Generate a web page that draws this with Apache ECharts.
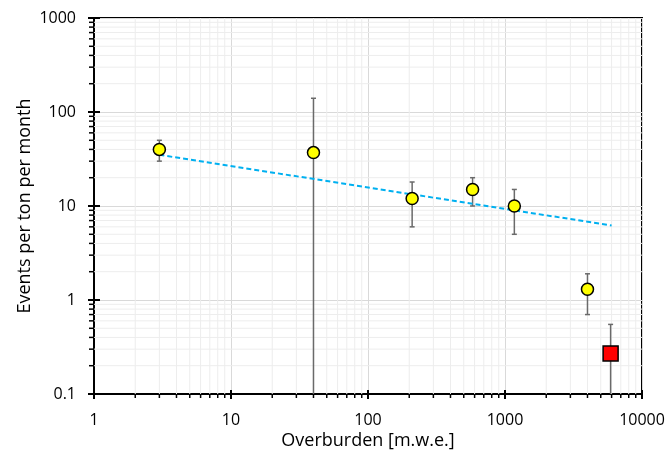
<!DOCTYPE html>
<html>
<head>
<meta charset="utf-8">
<script src="https://cdn.jsdelivr.net/npm/echarts@6/dist/echarts.min.js"></script>
<style>html,body{margin:0;padding:0;background:#fff}#c{width:668px;height:450px}</style>
</head>
<body>
<div id="c"></div>
<script>
// ---- data ----
const depth   = [3, 40, 210, 580, 1170, 4000];      // m.w.e.
const rate    = [40, 37, 12, 15, 10, 1.3];          // events / ton / month
const rateHi  = [50, 140, 18, 20, 15, 1.9];
const rateLo  = [30, null, 6, 10, 5, 0.7];          // null = extends below axis
const limitDepth = [5900];
const limitRate  = [0.27];
const limitHi    = [0.55];
const limitLo    = [null];
const fitDepth = [3, 6000];
const fitRate  = [35, 6.2];
const xDecades = [1, 10, 100, 1000];
const yDecades = [0.1, 1, 10, 100];
const minorMult = [2, 3, 4, 5, 6, 7, 8, 9];
const X_MIN = 1, X_MAX = 10000, Y_MIN = 0.1, Y_MAX = 1000;

const xMinor = [];
xDecades.forEach(d => minorMult.forEach(m => xMinor.push(+(d * m).toPrecision(3))));
const yMinor = [];
yDecades.forEach(d => minorMult.forEach(m => yMinor.push(+(d * m).toPrecision(3))));
const xMajor = [1, 10, 100, 1000, 10000];
const yMajor = [0.1, 1, 10, 100, 1000];

const FONT = 'Open Sans';
const chart = echarts.init(document.getElementById('c'), null, {renderer: 'canvas'});

function gridRender(dir) {
  return function (params, api) {
    const v = api.value(0);
    const major = api.value(1) === 1;
    const children = [];
    if (dir === 'x') {
      const a = api.coord([v, Y_MIN]);
      const b = api.coord([v, Y_MAX]);
      if (!major) {
        children.push({type: 'line', shape: {x1: a[0], y1: a[1], x2: b[0], y2: b[1]},
          style: {stroke: '#ededed', lineWidth: 1}});
        children.push({type: 'line', shape: {x1: a[0], y1: a[1], x2: a[0], y2: a[1] + 4},
          style: {stroke: '#000', lineWidth: 1.5}});
      } else {
        children.push({type: 'line', shape: {x1: a[0], y1: a[1] - 4, x2: a[0], y2: a[1] + 5},
          style: {stroke: '#000', lineWidth: 2}});
      }
    } else {
      const a = api.coord([X_MIN, v]);
      const b = api.coord([X_MAX, v]);
      if (!major) {
        children.push({type: 'line', shape: {x1: a[0], y1: a[1], x2: b[0], y2: b[1]},
          style: {stroke: '#ededed', lineWidth: 1}});
        children.push({type: 'line', shape: {x1: a[0] - 5, y1: a[1], x2: a[0], y2: a[1]},
          style: {stroke: '#000', lineWidth: 1.5}});
      } else {
        children.push({type: 'line', shape: {x1: a[0] - 6, y1: a[1], x2: a[0] + 6, y2: a[1]},
          style: {stroke: '#000', lineWidth: 2}});
      }
    }
    return {type: 'group', children: children};
  };
}

function errRender(params, api) {
  const x = api.value(0);
  const hi = api.value(1);
  const loRaw = api.value(2);
  const open = (loRaw == null || isNaN(loRaw) || loRaw < Y_MIN);
  const lo = open ? Y_MIN : loRaw;
  const top = api.coord([x, hi]);
  const bot = api.coord([x, lo]);
  const c = 2.5;
  const style = {stroke: '#6a6a6a', lineWidth: 1.5};
  const children = [
    {type: 'line', shape: {x1: top[0], y1: top[1], x2: bot[0], y2: bot[1]}, style: style},
    {type: 'line', shape: {x1: top[0] - c, y1: top[1], x2: top[0] + c, y2: top[1]}, style: style}
  ];
  if (!open) children.push({type: 'line', shape: {x1: bot[0] - c, y1: bot[1], x2: bot[0] + c, y2: bot[1]}, style: style});
  return {type: 'group', children: children};
}

const errData = depth.map((d, i) => [d, rateHi[i], rateLo[i] == null ? NaN : rateLo[i]])
  .concat(limitDepth.map((d, i) => [d, limitHi[i], limitLo[i] == null ? NaN : limitLo[i]]));

chart.setOption({
  animation: false,
  grid: {left: 94, right: 26, top: 18, bottom: 56, show: true, borderColor: '#000', borderWidth: 2,
    backgroundColor: 'transparent', containLabel: false, outerBoundsMode: 'none'},
  xAxis: {
    type: 'log', logBase: 10, min: X_MIN, max: X_MAX,
    name: 'Overburden [m.w.e.]', nameLocation: 'middle', nameGap: 38, nameMoveOverlap: false,
    nameTextStyle: {fontFamily: FONT, fontSize: 18, color: '#000'},
    axisLine: {show: true, lineStyle: {color: '#000', width: 2}},
    axisTick: {show: false},
    axisLabel: {fontFamily: FONT, fontSize: 16, color: '#000', margin: 18,
      formatter: v => String(+(+v).toPrecision(3))},
    splitLine: {show: true, lineStyle: {color: '#d9d9d9', width: 1}}
  },
  yAxis: {
    type: 'log', logBase: 10, min: Y_MIN, max: Y_MAX,
    name: 'Events per ton per month', nameLocation: 'middle', nameGap: 60, nameMoveOverlap: false,
    nameTextStyle: {fontFamily: FONT, fontSize: 18, color: '#000'},
    axisLine: {show: true, lineStyle: {color: '#000', width: 2}},
    axisTick: {show: false},
    axisLabel: {fontFamily: FONT, fontSize: 16, color: '#000', margin: 18,
      formatter: v => String(+(+v).toPrecision(3))},
    splitLine: {show: true, lineStyle: {color: '#d9d9d9', width: 1}}
  },
  series: [
    {type: 'custom', name: 'xgrid', renderItem: gridRender('x'), silent: true, z: 1,
      data: xMinor.map(v => [v, 0, 1]).concat(xMajor.map(v => [v, 1, 1])), encode: {x: 0, y: 2}},
    {type: 'custom', name: 'ygrid', renderItem: gridRender('y'), silent: true, z: 1,
      data: yMinor.map(v => [v, 0, 1]).concat(yMajor.map(v => [v, 1, 1])), encode: {x: 2, y: 0}},
    {type: 'custom', name: 'errors', renderItem: errRender, z: 3, clip: true,
      data: errData, encode: {x: 0, y: [1, 2]}},
    {type: 'line', name: 'fit', data: fitDepth.map((d, i) => [d, fitRate[i]]), symbol: 'none', z: 4,
      lineStyle: {color: '#00b0f0', width: 2, type: [5, 3]}},
    {type: 'scatter', name: 'measured', data: depth.map((d, i) => [d, rate[i]]), z: 5,
      symbol: 'circle', symbolSize: 12,
      itemStyle: {color: '#ffff00', borderColor: '#000', borderWidth: 1.5, opacity: 1}},
    {type: 'scatter', name: 'limit', data: limitDepth.map((d, i) => [d, limitRate[i]]), z: 5,
      symbol: 'rect', symbolSize: 15,
      itemStyle: {color: '#ff0000', borderColor: '#000', borderWidth: 1.5, opacity: 1}}
  ]
});
</script>
</body>
</html>
